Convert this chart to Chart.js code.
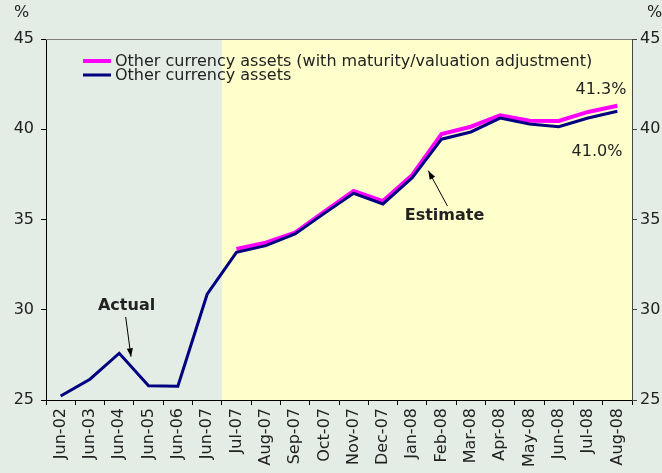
<!DOCTYPE html>
<html>
<head>
<meta charset="utf-8">
<script src="https://cdn.jsdelivr.net/npm/chart.js@4.4.0/dist/chart.umd.min.js"></script>
<style>
    html, body { margin: 0; padding: 0; background: #E3EDE6; }
    #wrap { width: 662px; height: 473px; }
</style>
</head>
<body>
<div id="wrap"><canvas id="fx-chart" width="662" height="473"></canvas></div>
<script>
var categories = ["Jun-02", "Jun-03", "Jun-04", "Jun-05", "Jun-06", "Jun-07",
    "Jul-07", "Aug-07", "Sep-07", "Oct-07", "Nov-07", "Dec-07", "Jan-08",
    "Feb-08", "Mar-08", "Apr-08", "May-08", "Jun-08", "Jul-08", "Aug-08"];

var adjustedAssets = [null, null, null, null, null, null,
    33.37, 33.72, 34.27, 35.43, 36.58, 36.02, 37.47,
    39.74, 40.14, 40.77, 40.47, 40.46, 40.96, 41.3];

var otherAssets = [25.22, 26.15, 27.59, 25.79, 25.76, 30.86,
    33.18, 33.55, 34.2, 35.34, 36.45, 35.86, 37.32,
    39.45, 39.85, 40.62, 40.29, 40.14, 40.62, 41.0];

var yTicks = [25, 30, 35, 40, 45];

var FONT = "'DejaVu Sans', Verdana, sans-serif";
var estimateStart = 6; // first index of the estimated period

var backgroundPlugin = {
    id: "backgroundPlugin",
    beforeDraw: function (chart) {
        var ctx = chart.ctx;
        var area = chart.chartArea;
        var x = chart.scales.x;
        ctx.save();
        ctx.fillStyle = "#E3EDE6";
        ctx.fillRect(0, 0, chart.width, chart.height);
        var split = (x.getPixelForValue(estimateStart - 1) + x.getPixelForValue(estimateStart)) / 2;
        ctx.fillStyle = "#FFFFCC";
        ctx.fillRect(split, area.top, area.right - split, area.bottom - area.top);
        ctx.restore();
    },
    afterDraw: function (chart) {
        var ctx = chart.ctx;
        var area = chart.chartArea;
        var x = chart.scales.x;
        var y = chart.scales.y;
        ctx.save();

        // top border of the plot
        ctx.strokeStyle = "#7F7F7F";
        ctx.lineWidth = 1;
        ctx.beginPath();
        ctx.moveTo(area.left, area.top + 0.5);
        ctx.lineTo(area.right, area.top + 0.5);
        ctx.stroke();

        // unit labels
        ctx.fillStyle = "#222";
        ctx.font = "16px " + FONT;
        ctx.textBaseline = "middle";
        ctx.textAlign = "left";
        ctx.fillText("%", 14, 13);
        ctx.fillText("%", 647, 13);

        // legend
        var legendItems = [chart.data.datasets[0], chart.data.datasets[1]];
        legendItems.forEach(function (ds, i) {
            var ly = 61 + i * 14;
            ctx.strokeStyle = ds.borderColor;
            ctx.lineWidth = i === 0 ? 4 : 3;
            ctx.beginPath();
            ctx.moveTo(83, ly);
            ctx.lineTo(111, ly);
            ctx.stroke();
            ctx.fillStyle = "#222";
            ctx.font = "16px " + FONT;
            ctx.textAlign = "left";
            ctx.fillText(ds.label, 115, ly + 1);
        });

        // end value labels
        var last = categories.length - 1;
        ctx.font = "16px " + FONT;
        ctx.textAlign = "right";
        ctx.fillText(adjustedAssets[last].toFixed(1) + "%", x.getPixelForValue(last) + 9, y.getPixelForValue(42.2));
        ctx.fillText(otherAssets[last].toFixed(1) + "%", x.getPixelForValue(last) + 5, y.getPixelForValue(38.75));

        // annotations
        ctx.font = "bold 16px " + FONT;
        ctx.textAlign = "center";
        ctx.fillText("Actual", x.getPixelForValue(2.25), y.getPixelForValue(30.2));
        ctx.fillText("Estimate", x.getPixelForValue(13.1), y.getPixelForValue(35.2));

        drawArrow(ctx, x.getPixelForValue(2.22), y.getPixelForValue(29.6), x.getPixelForValue(2.4), y.getPixelForValue(27.4));
        drawArrow(ctx, x.getPixelForValue(13.2), y.getPixelForValue(35.75), x.getPixelForValue(12.55), y.getPixelForValue(37.7));

        ctx.restore();
    }
};

function drawArrow(ctx, x1, y1, x2, y2) {
    var angle = Math.atan2(y2 - y1, x2 - x1);
    var head = 9;
    ctx.strokeStyle = "#000";
    ctx.fillStyle = "#000";
    ctx.lineWidth = 1;
    ctx.beginPath();
    ctx.moveTo(x1, y1);
    ctx.lineTo(x2, y2);
    ctx.stroke();
    ctx.beginPath();
    ctx.moveTo(x2, y2);
    ctx.lineTo(x2 - head * Math.cos(angle - 0.35), y2 - head * Math.sin(angle - 0.35));
    ctx.lineTo(x2 - head * Math.cos(angle + 0.35), y2 - head * Math.sin(angle + 0.35));
    ctx.closePath();
    ctx.fill();
}

function yAxis(position, width, pad) {
    return {
        type: "linear",
        position: position,
        min: yTicks[0],
        max: yTicks[yTicks.length - 1],
        afterBuildTicks: function (scale) {
            scale.ticks = yTicks.map(function (v) { return { value: v }; });
        },
        afterFit: function (scale) {
            scale.width = width;
        },
        grid: {
            drawOnChartArea: false,
            drawTicks: true,
            tickLength: 5,
            color: position === "left" ? "#000" : "#444"
        },
        border: {
            display: true,
            color: position === "left" ? "#000" : "#444",
            width: 1
        },
        ticks: {
            color: "#222",
            padding: pad,
            font: { family: FONT, size: 16 }
        }
    };
}

new Chart(document.getElementById("fx-chart"), {
    type: "line",
    data: {
        labels: categories,
        datasets: [
            {
                label: "Other currency assets (with maturity/valuation adjustment)",
                data: adjustedAssets,
                borderColor: "#FF00FF",
                backgroundColor: "#FF00FF",
                borderWidth: 4,
                pointRadius: 0,
                tension: 0,
                order: 1
            },
            {
                label: "Other currency assets",
                data: otherAssets,
                borderColor: "#000080",
                backgroundColor: "#000080",
                borderWidth: 3,
                pointRadius: 0,
                tension: 0,
                order: 0
            }
        ]
    },
    options: {
        responsive: false,
        animation: false,
        layout: {
            padding: { top: 39, left: 0, right: 0, bottom: 0 }
        },
        scales: {
            x: {
                offset: true,
                afterFit: function (scale) {
                    scale.height = 73;
                },
                grid: {
                    offset: true,
                    drawOnChartArea: false,
                    drawTicks: true,
                    tickLength: 5,
                    color: "#000"
                },
                border: { display: true, color: "#000", width: 1 },
                ticks: {
                    color: "#222",
                    minRotation: 90,
                    maxRotation: 90,
                    autoSkip: false,
                    padding: 3,
                    font: { family: FONT, size: 16 }
                }
            },
            y: yAxis("left", 46, 7),
            y2: yAxis("right", 30, 3)
        },
        plugins: {
            legend: { display: false },
            tooltip: { enabled: false }
        }
    },
    plugins: [backgroundPlugin]
});
</script>
</body>
</html>
